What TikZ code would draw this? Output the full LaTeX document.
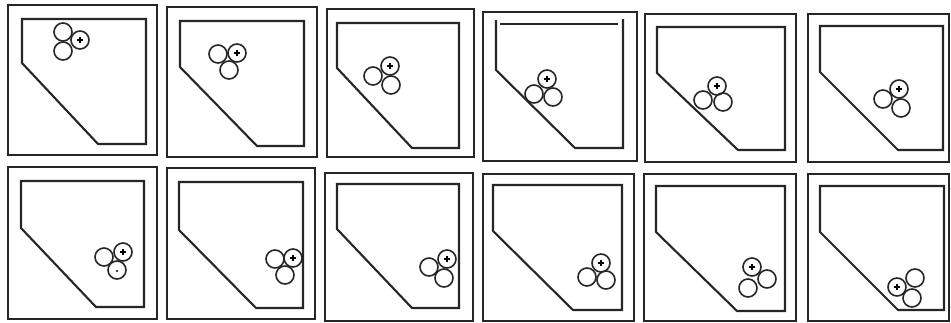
\documentclass[tikz,border=0pt]{standalone}
\begin{document}
\begin{tikzpicture}[x=1pt,y=-1pt,
  outer/.style={draw=black!85,line width=2.1pt},
  inner/.style={draw=black!85,line width=2.1pt,line join=miter},
  ball/.style={draw=black!85,line width=1.6pt},
  plusmark/.style={draw=black,line width=1.3pt}]
\useasboundingbox[fill=white] (0,0) rectangle (951,322);
\newcommand\balls[4][9]{%
  \draw[ball] (#2) circle (#1);
  \draw[ball] (#4) circle (#1);
  \draw[ball] (#3) circle (#1);
  \draw[plusmark] (#3) +(-3,0) -- +(3,0) +(0,-3) -- +(0,3);}
% ---------- row 1 ----------
% panel 1
\draw[outer] (8,5) rectangle (157,155);
\draw[inner] (22,19) -- (146,19) -- (146,144) -- (98,144) -- (22,63) -- cycle;
\balls{63,32}{80,40}{63,51}
% panel 2
\draw[outer] (167,7) rectangle (317,157);
\draw[inner] (180,21) -- (304,21) -- (304,146) -- (257,146) -- (180,67) -- cycle;
\balls{218,54}{237,53}{229,70}
% panel 3
\draw[outer] (327,9) rectangle (474,157);
\draw[inner] (337,23) -- (459,23) -- (459,148) -- (412,148) -- (337,68) -- cycle;
\balls{373,76}{390,66}{391,85}
% panel 4 (open top corners)
\draw[outer] (483,12) rectangle (637,161);
\draw[inner] (500,24) -- (618,24);
\draw[inner] (496,20) -- (496,70) -- (575,148) -- (623,148) -- (623,19);
\balls{534,94}{547,79}{553,97}
% panel 5
\draw[outer] (645,14) rectangle (796,162);
\draw[inner] (657,27) -- (785,27) -- (785,150) -- (738,150) -- (657,73) -- cycle;
\balls{703,100}{717,86}{723,102}
% panel 6
\draw[outer] (808,14) rectangle (949,162);
\draw[inner] (820,26) -- (943,26) -- (943,150) -- (898,150) -- (820,72) -- cycle;
\balls{883,99}{899,89}{901,108}
% ---------- row 2 ----------
% panel 7
\draw[outer] (8,167) rectangle (157,319);
\draw[inner] (21,181) -- (144,181) -- (144,307) -- (96,307) -- (21,228) -- cycle;
\balls{104,257}{123,252}{117,270}
\fill (117,271) circle (1.1);
% panel 8
\draw[outer] (167,168) rectangle (315,319);
\draw[inner] (179,182) -- (303,182) -- (303,308) -- (256,308) -- (179,230) -- cycle;
\balls{275,259}{293,258}{285,275}
% panel 9
\draw[outer] (325,173) rectangle (473,321);
\draw[inner] (337,184) -- (459,184) -- (459,308) -- (412,308) -- (337,229) -- cycle;
\balls{429,267}{447,259}{444,278}
% panel 10
\draw[outer] (483,174) rectangle (634,321);
\draw[inner] (493,185) -- (622,185) -- (622,310) -- (573,310) -- (493,231) -- cycle;
\balls{587,277}{601,263}{606,280}
% panel 11
\draw[outer] (644,174) rectangle (796,321);
\draw[inner] (656,186) -- (785,186) -- (785,311) -- (737,311) -- (656,232) -- cycle;
\balls{748,288}{752,267}{767,279}
% panel 12
\draw[outer] (808,174) rectangle (949,321);
\draw[inner] (820,186) -- (944,186) -- (944,310) -- (898,310) -- (820,232) -- cycle;
\balls{915,278}{897,287}{912,298}
\end{tikzpicture}
\end{document}
